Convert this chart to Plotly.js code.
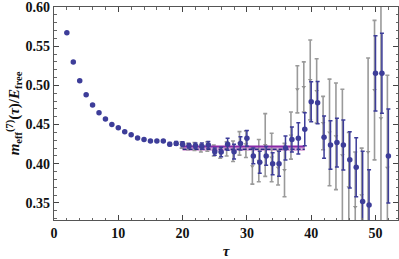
<!DOCTYPE html>
<html><head><meta charset="utf-8">
<script src="https://cdn.plot.ly/plotly-3.0.1.min.js"></script>
<style>html,body{margin:0;padding:0;background:#fff}#c{width:399px;height:259px}</style>
</head><body><div id="c"></div>
<script>
var tauBlue = [2,3,4,5,6,7,8,9,10,11,12,13,14,15,16,17,18,19,20,21,22,23,24,25,26,27,28,29,30,31,32,33,34,35,36,37,38,39,40,41,42,43,44,45,46,47,48,49,50,51,52];
var mBlue = [0.567,0.530,0.506,0.488,0.475,0.465,0.457,0.450,0.446,0.441,0.437,0.433,0.431,0.429,0.429,0.429,0.425,0.426,0.425,0.423,0.423,0.4225,0.424,0.4155,0.415,0.425,0.4155,0.426,0.4325,0.410,0.402,0.410,0.400,0.400,0.420,0.431,0.4325,0.444,0.479,0.478,0.434,0.424,0.427,0.424,0.405,0.3955,0.352,0.3475,0.5154,0.5154,0.410];
var errBlue = [0,0,0,0,0,0,0,0,0,0,0,0,0,0,0,0,0.002,0.0025,0.003,0.003,0.0035,0.004,0.0045,0.0047,0.006,0.0077,0.0095,0.0085,0.010,0.010,0.014,0.012,0.014,0.016,0.0153,0.016,0.020,0.021,0.0255,0.027,0.027,0.031,0.031,0.032,0.036,0.0376,0.064,0.045,0.048,0.051,0.060];

var tauGray = [20,21,22,23,24,25,26,27,28,29,30,31,32,33,34,35,36,37,38,39,40,41,42,43,44,45,46,47,48,49,50,51,52];
var mGray = [0.424,0.422,0.422,0.420,0.422,0.417,0.4144,0.419,0.416,0.426,0.425,0.397,0.404,0.424,0.408,0.395,0.392,0.436,0.495,0.498,0.507,0.493,0.452,0.440,0.435,0.411,0.370,0.345,0.360,0.415,0.494,0.458,0.395];
var errGray = [0.004,0.004,0.005,0.005,0.006,0.007,0.0074,0.009,0.013,0.015,0.017,0.023,0.027,0.040,0.031,0.022,0.034,0.030,0.030,0.032,0.051,0.041,0.034,0.068,0.068,0.084,0.070,0.070,0.060,0.120,0.089,0.150,0.118];

var fitRange = [20, 39];
var fitValue = 0.4222;
var fitCentral = 0.4186;
var fitBand = [0.4163, 0.4226];

var xTickVals = [0,10,20,30,40,50];
var yTickVals = [0.35,0.40,0.45,0.50,0.55,0.60];
var yTickText = ['0.35','0.40','0.45','0.50','0.55','0.60'];

var grayShift = tauGray.map(function(t){return t - 0.15;});

var traces = [
  {x:[fitRange[0],fitRange[1],fitRange[1],fitRange[0]], y:[fitBand[0],fitBand[0],fitBand[1],fitBand[1]],
   fill:'toself', mode:'lines', line:{width:0}, fillcolor:'rgba(205,150,210,0.75)', hoverinfo:'skip', showlegend:false},
  {x:grayShift, y:mGray, mode:'markers', type:'scatter',
   marker:{symbol:'triangle-down', size:4, color:'#8f8f8f'},
   error_y:{type:'data', array:errGray, visible:true, color:'#9a9a9a', thickness:1.6, width:2}, showlegend:false},
  {x:fitRange, y:[fitValue,fitValue], mode:'lines', line:{color:'#8a2aa8', width:2}, showlegend:false},
  {x:fitRange, y:[fitCentral,fitCentral], mode:'lines', line:{color:'#2a2a80', width:1.5, dash:'4px,2px'}, showlegend:false},
  {x:tauBlue, y:mBlue, mode:'markers', type:'scatter',
   marker:{symbol:'circle', size:5.5, color:'#3d3d99'},
   error_y:{type:'data', array:errBlue, visible:true, color:'#3d3d99', thickness:1.5, width:2}, showlegend:false}
];

var axFont = {family:'Liberation Serif, Times New Roman, serif', size:14, color:'#111', weight:'bold'};
var layout = {
  width:399, height:259,
  margin:{l:54, r:1, t:7, b:39, pad:0},
  paper_bgcolor:'#fff', plot_bgcolor:'#fff',
  font:axFont,
  xaxis:{range:[0,53.5], tickvals:xTickVals, ticktext:xTickVals.map(String),
    ticks:'inside', ticklen:5, tickcolor:'#444', showline:true, linecolor:'#555', linewidth:1.2, mirror:'ticks',
    showgrid:false, zeroline:false, tickfont:axFont, ticklabeloverflow:'allow',
    minor:{dtick:2, ticks:'inside', ticklen:2.5, tickcolor:'#666', showgrid:false},
    title:{text:'<i>τ</i>', font:{family:'Liberation Serif, serif', size:15, color:'#111', weight:'bold'}, standoff:12}},
  yaxis:{range:[0.3283,0.60], tickvals:yTickVals, ticktext:yTickText,
    ticks:'inside', ticklen:5, tickcolor:'#444', showline:true, linecolor:'#555', linewidth:1.2, mirror:'ticks',
    showgrid:false, zeroline:false, tickfont:axFont, ticklabeloverflow:'allow',
    minor:{dtick:0.01, ticks:'inside', ticklen:2.5, tickcolor:'#666', showgrid:false},
    title:{text:'<i>m</i><sub>eff</sub><sup>(7)</sup>(<i>τ</i>)/<i>E</i><sub>free</sub>', font:{family:'Liberation Serif, serif', size:15, color:'#111', weight:'bold'}, standoff:2}}
};
Plotly.newPlot('c', traces, layout, {displayModeBar:false, staticPlot:true});
</script></body></html>
